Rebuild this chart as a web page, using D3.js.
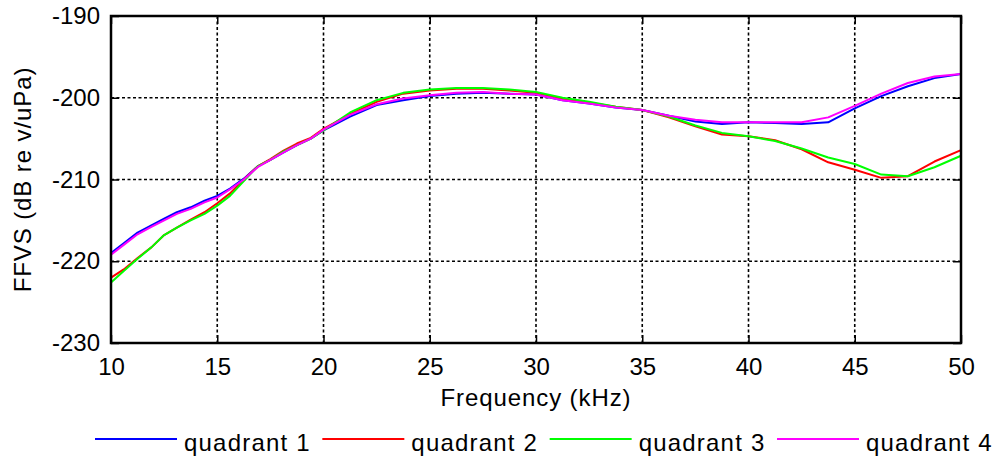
<!DOCTYPE html>
<html>
<head>
<meta charset="utf-8">
<script src="https://cdn.jsdelivr.net/npm/d3@7"></script>
<style>
  html, body { margin: 0; padding: 0; background: #fff; }
  svg { display: block; font-family: "Liberation Sans", Arial, sans-serif; }
</style>
</head>
<body>
<svg id="chart" width="992" height="456"></svg>
<script>
// Frequency grid (kHz) shared by all quadrant measurements
const freqKHz = [10, 10.6, 11.25, 11.9, 12.5, 13.1, 13.75, 14.4, 15, 15.6, 16.25, 16.9, 17.5, 18.1, 18.75, 19.4,
  20, 21.25, 22.5, 23.75, 25, 26.25, 27.5, 28.75, 30, 31.25, 32.5, 33.75, 35, 36.25, 37.5, 38.75,
  40, 41.25, 42.5, 43.75, 45, 46.25, 47.5, 48.75, 50];

// Free-field voltage sensitivity, dB re V/uPa
const quadrant1 = [-219.0, -217.8, -216.5, -215.6, -214.8, -214.0, -213.4, -212.6, -212.0, -211.1, -209.9, -208.4, -207.6, -206.7, -205.8, -205.0,
  -204.0, -202.3, -200.9, -200.3, -199.8, -199.5, -199.4, -199.5, -199.6, -200.3, -200.7, -201.2, -201.5, -202.2, -202.9, -203.2,
  -203.0, -203.1, -203.2, -203.0, -201.3, -199.8, -198.6, -197.6, -197.1];
const quadrant2 = [-222.0, -221.0, -219.6, -218.3, -216.8, -215.9, -214.9, -214.0, -212.9, -211.7, -210.0, -208.4, -207.5, -206.5, -205.6, -204.9,
  -203.8, -202.0, -200.5, -199.5, -199.1, -198.9, -198.9, -199.1, -199.4, -200.1, -200.6, -201.1, -201.5, -202.4, -203.5, -204.5,
  -204.7, -205.2, -206.3, -207.9, -208.8, -209.8, -209.6, -207.8, -206.4];
const quadrant3 = [-222.6, -221.2, -219.7, -218.3, -216.8, -215.9, -215.0, -214.2, -213.2, -212.0, -210.2, -208.4, -207.6, -206.6, -205.8, -205.0,
  -204.0, -201.8, -200.3, -199.4, -199.0, -198.8, -198.8, -199.0, -199.3, -200.0, -200.5, -201.1, -201.5, -202.3, -203.4, -204.3,
  -204.7, -205.3, -206.2, -207.3, -208.1, -209.4, -209.6, -208.5, -207.1];
const quadrant4 = [-219.2, -218.0, -216.7, -215.8, -215.0, -214.2, -213.6, -212.8, -212.2, -211.2, -210.0, -208.5, -207.6, -206.7, -205.8, -205.0,
  -203.9, -202.1, -200.8, -200.1, -199.7, -199.4, -199.3, -199.5, -199.6, -200.3, -200.7, -201.2, -201.5, -202.2, -202.7, -203.0,
  -203.0, -203.0, -203.0, -202.4, -201.0, -199.5, -198.2, -197.4, -197.1];

const seriesNames = ["quadrant 1", "quadrant 2", "quadrant 3", "quadrant 4"];
const seriesColors = ["#0000ff", "#ff0000", "#00ff00", "#ff00ff"];
const xTicks = [10, 15, 20, 25, 30, 35, 40, 45, 50];
const yTicks = [-230, -220, -210, -200, -190];
const xLabel = "Frequency (kHz)";
const yLabel = "FFVS (dB re v/uPa)";

const series = [quadrant1, quadrant2, quadrant3, quadrant4].map((vals, i) => ({
  name: seriesNames[i],
  color: seriesColors[i],
  points: vals.map((v, j) => [freqKHz[j], v])
}));

const svg = d3.select("#chart");
const plot = { left: 111, right: 961, top: 16, bottom: 343 };

const x = d3.scaleLinear().domain([10, 50]).range([plot.left, plot.right]);
const y = d3.scaleLinear().domain([-230, -190]).range([plot.bottom, plot.top]);

// Dotted grid
const grid = svg.append("g").attr("stroke", "#000").attr("stroke-width", 1.6).attr("stroke-dasharray", "3,2.5");
grid.selectAll("line.gx").data(xTicks.slice(1, -1)).join("line")
  .attr("x1", d => x(d)).attr("x2", d => x(d))
  .attr("y1", plot.top).attr("y2", plot.bottom);
grid.selectAll("line.gy").data(yTicks.slice(1, -1)).join("line")
  .attr("x1", plot.left).attr("x2", plot.right)
  .attr("y1", d => y(d)).attr("y2", d => y(d));

// Curves
const line = d3.line().x(d => x(d[0])).y(d => y(d[1]));
svg.append("g").selectAll("path").data(series).join("path")
  .attr("d", d => line(d.points))
  .attr("fill", "none")
  .attr("stroke", d => d.color)
  .attr("stroke-width", 2)
  .attr("stroke-linejoin", "round");

// Axes with inward ticks on all four sides; plain hyphen for negatives
const tickLen = 8;
const fontSize = 24;
const fmt = d => String(d);
svg.append("g").attr("transform", `translate(0,${plot.bottom})`)
  .call(d3.axisBottom(x).tickValues(xTicks).tickSize(-tickLen).tickPadding(15).tickFormat(fmt))
  .call(g => g.select(".domain").remove());
svg.append("g").attr("transform", `translate(0,${plot.top})`)
  .call(d3.axisTop(x).tickValues(xTicks).tickSize(-tickLen).tickFormat(""))
  .call(g => g.select(".domain").remove());
svg.append("g").attr("transform", `translate(${plot.left},0)`)
  .call(d3.axisLeft(y).tickValues(yTicks).tickSize(-tickLen).tickPadding(11).tickFormat(fmt))
  .call(g => g.select(".domain").remove());
svg.append("g").attr("transform", `translate(${plot.right},0)`)
  .call(d3.axisRight(y).tickValues(yTicks).tickSize(-tickLen).tickFormat(""))
  .call(g => g.select(".domain").remove());

svg.selectAll(".tick line").attr("stroke", "#000").attr("stroke-width", 1.5);
svg.selectAll(".tick text")
  .attr("font-family", "'Liberation Sans', Arial, sans-serif")
  .attr("font-size", fontSize)
  .attr("fill", "#000");

// Frame
svg.append("rect")
  .attr("x", plot.left).attr("y", plot.top)
  .attr("width", plot.right - plot.left).attr("height", plot.bottom - plot.top)
  .attr("fill", "none").attr("stroke", "#000").attr("stroke-width", 2.5);

// Axis titles
svg.append("text")
  .attr("x", (plot.left + plot.right) / 2).attr("y", 406)
  .attr("text-anchor", "middle")
  .attr("font-size", fontSize).attr("letter-spacing", 0.9)
  .text(xLabel);
svg.append("text")
  .attr("transform", `translate(31,${(plot.top + plot.bottom) / 2}) rotate(-90)`)
  .attr("text-anchor", "middle")
  .attr("font-size", fontSize).attr("letter-spacing", 0.9)
  .text(yLabel);

// Legend
const legendX = d3.scalePoint().domain(seriesNames).range([95, 777]);
const legend = svg.append("g").selectAll("g").data(series).join("g")
  .attr("transform", d => `translate(${legendX(d.name)},439)`);
legend.append("line")
  .attr("x1", 0).attr("x2", 82).attr("y1", 0).attr("y2", 0)
  .attr("stroke", d => d.color).attr("stroke-width", 2);
legend.append("text")
  .attr("x", 89).attr("y", 12)
  .attr("font-size", fontSize).attr("letter-spacing", 1.2)
  .text(d => d.name);
</script>
</body>
</html>
